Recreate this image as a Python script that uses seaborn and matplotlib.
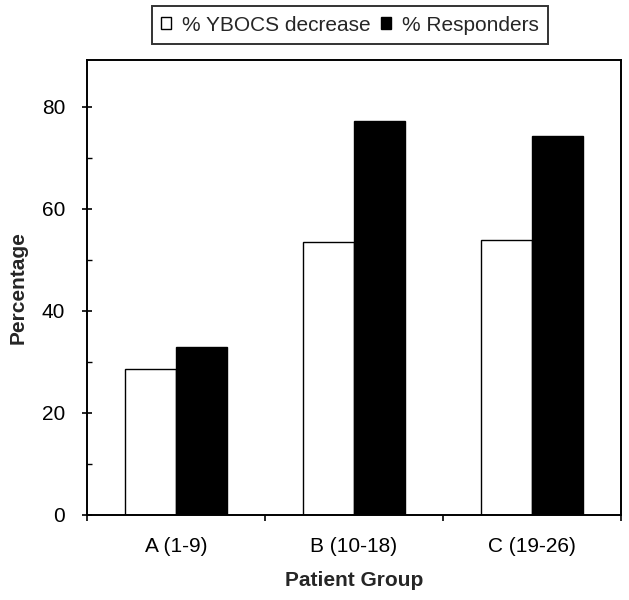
import matplotlib
matplotlib.use("Agg")
import matplotlib.pyplot as plt
from matplotlib.patches import Patch
from matplotlib.ticker import FixedLocator, MultipleLocator
import seaborn as sns
import pandas as pd

groups = ["A (1-9)", "B (10-18)", "C (19-26)"]
series = ["% YBOCS decrease", "% Responders"]
ybocs_decrease = [28.6, 53.6, 53.9]
responders = [33.0, 77.2, 74.3]
colors = ["white", "black"]

df = pd.DataFrame({
    "group": groups * 2,
    "series": [series[0]] * 3 + [series[1]] * 3,
    "value": ybocs_decrease + responders,
})

sns.set_theme(style="white")
plt.rcParams["font.family"] = ["Liberation Sans", "DejaVu Sans"]

fig = plt.figure(figsize=(6.29, 6.0), dpi=100)
ax = fig.add_axes([0.1383, 0.1417, 0.8485, 0.7583])

sns.barplot(data=df, x="group", y="value", hue="series", hue_order=series,
            palette=colors, edgecolor="black", linewidth=1.0, width=0.576,
            saturation=1, ax=ax, legend=False)

ax.set_xlim(-0.5, 2.5)
ax.set_ylim(0, 89.2)

for s in ax.spines.values():
    s.set_visible(True)
    s.set_color("black")
    s.set_linewidth(1.4)

# y ticks
ax.yaxis.set_major_locator(MultipleLocator(20))
ax.yaxis.set_minor_locator(MultipleLocator(10))
ax.tick_params(axis="y", which="major", direction="inout", length=7.4, width=1.2,
               labelsize=15, pad=12, colors="black", left=True)
ax.tick_params(axis="y", which="minor", direction="in", length=3.4, width=1.0,
               left=True, colors="black")
# x ticks: labels at centers, tick marks at boundaries
ax.xaxis.set_minor_locator(FixedLocator([-0.5, 0.5, 1.5, 2.5]))
ax.tick_params(axis="x", which="major", length=0, labelsize=15, pad=16, colors="black")
ax.tick_params(axis="x", which="minor", direction="out", length=4.5, width=1.2,
               bottom=True, colors="black")

ax.set_xlabel("Patient Group", fontsize=15, fontweight="bold", labelpad=11)
ax.set_ylabel("Percentage", fontsize=15, fontweight="bold", labelpad=10)

handles = [Patch(facecolor=c, edgecolor="black", linewidth=1.0) for c in colors]
leg = fig.legend(handles, series, loc="center", bbox_to_anchor=(0.556, 0.958),
                 ncol=2, fontsize=15, frameon=True, fancybox=False,
                 handlelength=0.5, handleheight=0.5, handletextpad=0.5,
                 columnspacing=0.5, borderpad=0.45, borderaxespad=0)
leg.get_frame().set_edgecolor("black")
leg.get_frame().set_linewidth(1.4)

fig.savefig("out.png", dpi=100)
